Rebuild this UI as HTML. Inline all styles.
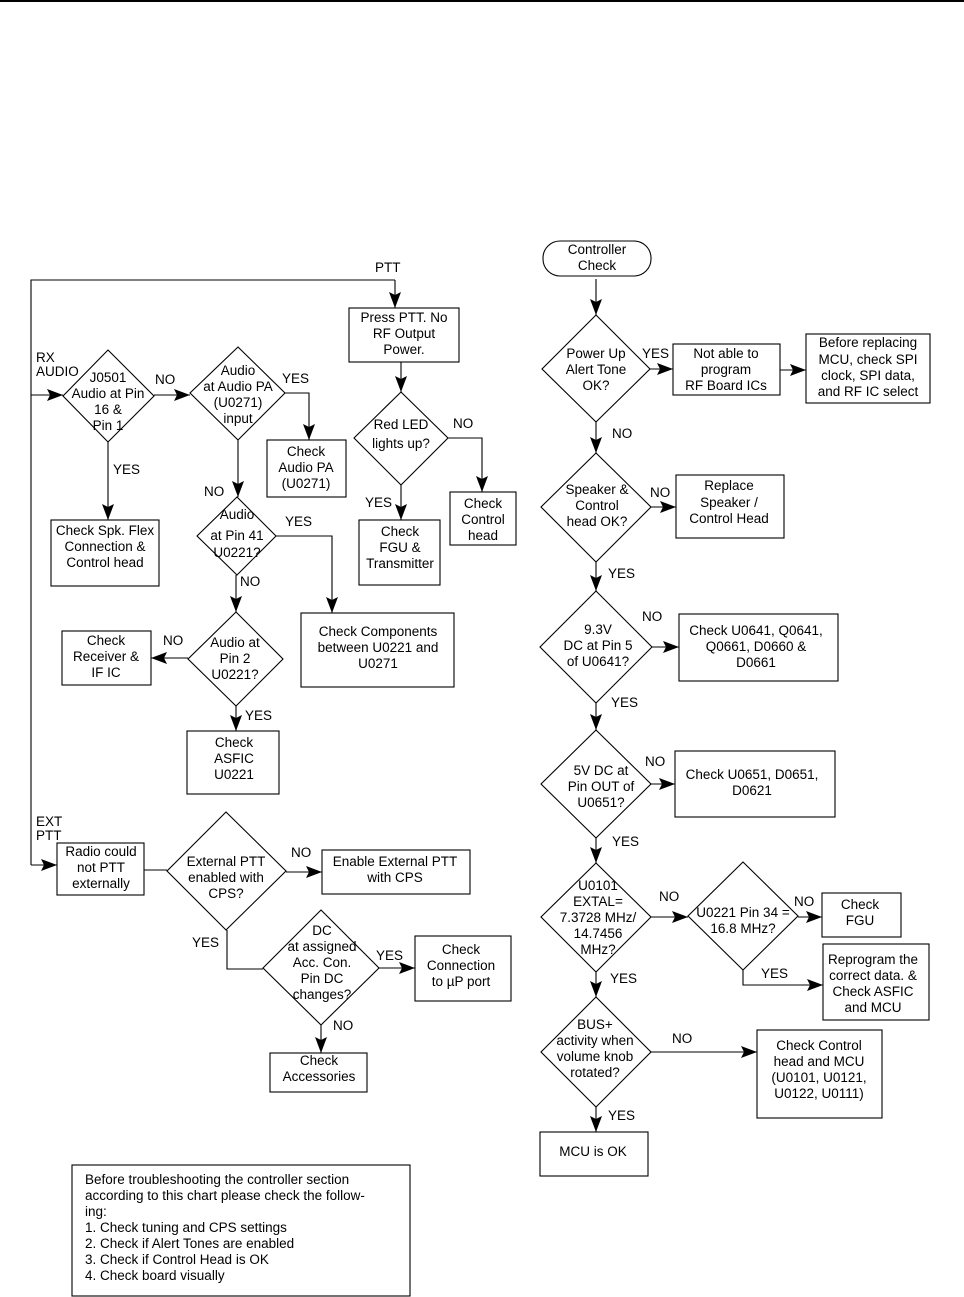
<!DOCTYPE html>
<html><head><meta charset="utf-8"><style>
html,body{margin:0;padding:0;background:#fff;}
svg{display:block;}
text{font-family:"Liberation Sans",Arial,sans-serif;font-size:13.5px;fill:#000;}
.c{text-anchor:middle;}
</style></head><body>
<svg width="964" height="1297" viewBox="0 0 964 1297" xmlns="http://www.w3.org/2000/svg">
<defs><marker id="a" markerWidth="16" markerHeight="12" refX="16" refY="6" orient="auto" markerUnits="userSpaceOnUse"><path d="M0,0 L16,6 L0,12 L3,6 Z" fill="#000"/></marker></defs>
<line x1="0" y1="1" x2="964" y2="1" stroke="#000" stroke-width="2"/>
<g fill="none" stroke="#000" stroke-width="1.1">
<polyline points="395,280 31,280 31,865"/>
<polyline points="395,280 395,308" marker-end="url(#a)"/>
<line x1="31" y1="395" x2="63" y2="395" marker-end="url(#a)"/>
<line x1="31" y1="865" x2="57" y2="865" marker-end="url(#a)"/>
<polygon points="108,350 154,396 108,442 63,396"/>
<polygon points="238,347 285,393 238,440 190,393"/>
<polygon points="237,497 276,536 237,575 197,536"/>
<polygon points="236,612 283,659 236,706 188,659"/>
<polygon points="401,392 448,438 401,485 354,438"/>
<polygon points="226,812 286,871 226,930 167,871"/>
<polygon points="321,910 379,968 321,1025 263,968"/>
<rect x="349" y="308" width="110" height="54"/>
<rect x="267" y="440" width="79" height="57"/>
<rect x="51" y="520" width="108" height="66"/>
<rect x="450" y="492" width="66" height="53"/>
<rect x="359" y="520" width="81" height="65"/>
<rect x="301" y="613" width="153" height="74"/>
<rect x="62" y="631" width="89" height="54"/>
<rect x="187" y="731" width="92" height="63"/>
<rect x="57" y="843" width="87" height="52"/>
<rect x="322" y="850" width="148" height="44"/>
<rect x="415" y="936" width="96" height="65"/>
<rect x="270" y="1053" width="97" height="39"/>
<rect x="72" y="1165" width="338" height="131"/>
<line x1="154" y1="395" x2="190" y2="395" marker-end="url(#a)"/>
<polyline points="285,393 309,393 309,440" marker-end="url(#a)"/>
<line x1="108" y1="442" x2="108" y2="520" marker-end="url(#a)"/>
<line x1="238" y1="440" x2="238" y2="497" marker-end="url(#a)"/>
<polyline points="276,536 332,536 332,613" marker-end="url(#a)"/>
<line x1="236" y1="575" x2="236" y2="612" marker-end="url(#a)"/>
<line x1="188" y1="658" x2="151" y2="658" marker-end="url(#a)"/>
<line x1="236" y1="706" x2="236" y2="731" marker-end="url(#a)"/>
<line x1="401" y1="362" x2="401" y2="392" marker-end="url(#a)"/>
<polyline points="448,438 482,438 482,492" marker-end="url(#a)"/>
<line x1="401" y1="485" x2="401" y2="520" marker-end="url(#a)"/>
<line x1="144" y1="870" x2="167" y2="870"/>
<line x1="286" y1="872" x2="322" y2="872" marker-end="url(#a)"/>
<polyline points="227,930 227,969 263,969"/>
<line x1="379" y1="968" x2="415" y2="968" marker-end="url(#a)"/>
<line x1="321" y1="1025" x2="321" y2="1053" marker-end="url(#a)"/>
<rect x="543" y="241" width="108" height="35" rx="17"/>
<line x1="596" y1="279" x2="596" y2="315" marker-end="url(#a)"/>
<polygon points="596,315 650,369 596,422 542,369"/>
<line x1="650" y1="369" x2="673" y2="369" marker-end="url(#a)"/>
<rect x="673" y="344" width="107" height="51"/>
<line x1="780" y1="370" x2="806" y2="370" marker-end="url(#a)"/>
<rect x="806" y="334" width="124" height="69"/>
<line x1="596" y1="422" x2="596" y2="453" marker-end="url(#a)"/>
<polygon points="596,453 651,507 596,562 541,507"/>
<line x1="651" y1="507" x2="676" y2="507" marker-end="url(#a)"/>
<rect x="676" y="475" width="108" height="63"/>
<line x1="596" y1="562" x2="596" y2="591" marker-end="url(#a)"/>
<polygon points="596,591 652,647 596,703 540,647"/>
<line x1="652" y1="647" x2="679" y2="647" marker-end="url(#a)"/>
<rect x="679" y="614" width="159" height="67"/>
<line x1="596" y1="703" x2="596" y2="730" marker-end="url(#a)"/>
<polygon points="596,730 651,784 596,838 541,784"/>
<line x1="651" y1="784" x2="675" y2="784" marker-end="url(#a)"/>
<rect x="675" y="751" width="160" height="66"/>
<line x1="596" y1="838" x2="596" y2="863" marker-end="url(#a)"/>
<polygon points="596,863 651,917 596,972 541,917"/>
<line x1="651" y1="917" x2="688" y2="917" marker-end="url(#a)"/>
<polygon points="743,862 798,916 743,970 688,916"/>
<line x1="798" y1="917" x2="822" y2="917" marker-end="url(#a)"/>
<rect x="822" y="893" width="79" height="44"/>
<polyline points="743,970 743,985 823,985" marker-end="url(#a)"/>
<rect x="823" y="944" width="106" height="76"/>
<line x1="596" y1="972" x2="596" y2="997" marker-end="url(#a)"/>
<polygon points="596,997 651,1052 596,1107 541,1052"/>
<line x1="651" y1="1052" x2="757" y2="1052" marker-end="url(#a)"/>
<rect x="757" y="1030" width="125" height="88"/>
<line x1="596" y1="1107" x2="596" y2="1132" marker-end="url(#a)"/>
<rect x="540" y="1132" width="108" height="44"/>
</g>
<g>
<text x="375" y="272">PTT</text>
<text x="36" y="362">RX</text><text x="36" y="376">AUDIO</text>
<text class="c" x="108" y="382">J0501</text><text class="c" x="108" y="398">Audio at Pin</text><text class="c" x="108" y="414">16 &amp;</text><text class="c" x="108" y="430">Pin 1</text>
<text x="155" y="384">NO</text>
<text class="c" x="238" y="375">Audio</text><text class="c" x="238" y="391">at Audio PA</text><text class="c" x="238" y="407">(U0271)</text><text class="c" x="238" y="423">input</text>
<text x="282" y="383">YES</text>
<text class="c" x="306" y="456">Check</text><text class="c" x="306" y="472">Audio PA</text><text class="c" x="306" y="488">(U0271)</text>
<text x="113" y="474">YES</text>
<text class="c" x="105" y="535">Check Spk. Flex</text><text class="c" x="105" y="551">Connection &amp;</text><text class="c" x="105" y="567">Control head</text>
<text x="204" y="496">NO</text>
<text class="c" x="237" y="519">Audio</text><text class="c" x="237" y="540">at Pin 41</text><text class="c" x="237" y="557">U0221?</text>
<text x="285" y="526">YES</text>
<text x="240" y="586">NO</text>
<text class="c" x="235" y="647">Audio at</text><text class="c" x="235" y="663">Pin 2</text><text class="c" x="235" y="679">U0221?</text>
<text x="163" y="645">NO</text>
<text class="c" x="106" y="645">Check</text><text class="c" x="106" y="661">Receiver &amp;</text><text class="c" x="106" y="677">IF IC</text>
<text x="245" y="720">YES</text>
<text class="c" x="234" y="747">Check</text><text class="c" x="234" y="763">ASFIC</text><text class="c" x="234" y="779">U0221</text>
<text class="c" x="378" y="636">Check Components</text><text class="c" x="378" y="652">between U0221 and</text><text class="c" x="378" y="668">U0271</text>
<text class="c" x="404" y="322">Press PTT. No</text><text class="c" x="404" y="338">RF Output</text><text class="c" x="404" y="354">Power.</text>
<text class="c" x="401" y="429">Red LED</text><text class="c" x="401" y="448">lights up?</text>
<text x="453" y="428">NO</text>
<text x="365" y="507">YES</text>
<text class="c" x="483" y="508">Check</text><text class="c" x="483" y="524">Control</text><text class="c" x="483" y="540">head</text>
<text class="c" x="400" y="536">Check</text><text class="c" x="400" y="552">FGU &amp;</text><text class="c" x="400" y="568">Transmitter</text>
<text x="36" y="826">EXT</text><text x="36" y="840">PTT</text>
<text class="c" x="101" y="856">Radio could</text><text class="c" x="101" y="872">not PTT</text><text class="c" x="101" y="888">externally</text>
<text class="c" x="226" y="866">External PTT</text><text class="c" x="226" y="882">enabled with</text><text class="c" x="226" y="898">CPS?</text>
<text x="291" y="857">NO</text>
<text class="c" x="395" y="866">Enable External PTT</text><text class="c" x="395" y="882">with CPS</text>
<text x="192" y="947">YES</text>
<text class="c" x="322" y="935">DC</text><text class="c" x="322" y="951">at assigned</text><text class="c" x="322" y="967">Acc. Con.</text><text class="c" x="322" y="983">Pin DC</text><text class="c" x="322" y="999">changes?</text>
<text x="376" y="960">YES</text>
<text class="c" x="461" y="954">Check</text><text class="c" x="461" y="970">Connection</text><text class="c" x="461" y="986">to µP port</text>
<text x="333" y="1030">NO</text>
<text class="c" x="319" y="1065">Check</text><text class="c" x="319" y="1081">Accessories</text>
<text x="85" y="1184">Before troubleshooting the controller section</text>
<text x="85" y="1200">according to this chart please check the follow-</text>
<text x="85" y="1216">ing:</text>
<text x="85" y="1232">1. Check tuning and CPS settings</text>
<text x="85" y="1248">2. Check if Alert Tones are enabled</text>
<text x="85" y="1264">3. Check if Control Head is OK</text>
<text x="85" y="1280">4. Check board visually</text>
<text class="c" x="597" y="254">Controller</text><text class="c" x="597" y="270">Check</text>
<text class="c" x="596" y="358">Power Up</text><text class="c" x="596" y="374">Alert Tone</text><text class="c" x="596" y="390">OK?</text>
<text x="642" y="358">YES</text>
<text class="c" x="726" y="358">Not able to</text><text class="c" x="726" y="374">program</text><text class="c" x="726" y="390">RF Board ICs</text>
<text class="c" x="868" y="347">Before replacing</text><text class="c" x="868" y="364">MCU, check SPI</text><text class="c" x="868" y="380">clock, SPI data,</text><text class="c" x="868" y="396">and RF IC select</text>
<text x="612" y="438">NO</text>
<text class="c" x="597" y="494">Speaker &amp;</text><text class="c" x="597" y="510">Control</text><text class="c" x="597" y="526">head OK?</text>
<text x="650" y="497">NO</text>
<text class="c" x="729" y="490">Replace</text><text class="c" x="729" y="507">Speaker /</text><text class="c" x="729" y="523">Control Head</text>
<text x="608" y="578">YES</text>
<text x="642" y="621">NO</text>
<text class="c" x="598" y="634">9.3V</text><text class="c" x="598" y="650">DC at Pin 5</text><text class="c" x="598" y="666">of U0641?</text>
<text class="c" x="756" y="635">Check U0641, Q0641,</text><text class="c" x="756" y="651">Q0661, D0660 &amp;</text><text class="c" x="756" y="667">D0661</text>
<text x="611" y="707">YES</text>
<text class="c" x="601" y="775">5V DC at</text><text class="c" x="601" y="791">Pin OUT of</text><text class="c" x="601" y="807">U0651?</text>
<text x="645" y="766">NO</text>
<text class="c" x="752" y="779">Check U0651, D0651,</text><text class="c" x="752" y="795">D0621</text>
<text x="612" y="846">YES</text>
<text class="c" x="598" y="890">U0101</text><text class="c" x="598" y="906">EXTAL=</text><text class="c" x="598" y="922">7.3728 MHz/</text><text class="c" x="598" y="938">14.7456</text><text class="c" x="598" y="954">MHz?</text>
<text x="659" y="901">NO</text>
<text class="c" x="743" y="917">U0221 Pin 34 =</text><text class="c" x="743" y="933">16.8 MHz?</text>
<text x="794" y="906">NO</text>
<text class="c" x="860" y="909">Check</text><text class="c" x="860" y="925">FGU</text>
<text x="761" y="978">YES</text>
<text class="c" x="873" y="964">Reprogram the</text><text class="c" x="873" y="980">correct data. &amp;</text><text class="c" x="873" y="996">Check ASFIC</text><text class="c" x="873" y="1012">and MCU</text>
<text x="610" y="983">YES</text>
<text class="c" x="595" y="1029">BUS+</text><text class="c" x="595" y="1045">activity when</text><text class="c" x="595" y="1061">volume knob</text><text class="c" x="595" y="1077">rotated?</text>
<text x="672" y="1043">NO</text>
<text class="c" x="819" y="1050">Check Control</text><text class="c" x="819" y="1066">head and MCU</text><text class="c" x="819" y="1082">(U0101, U0121,</text><text class="c" x="819" y="1098">U0122, U0111)</text>
<text x="608" y="1120">YES</text>
<text class="c" x="593" y="1156">MCU is OK</text>
</g>
</svg>
</body></html>
